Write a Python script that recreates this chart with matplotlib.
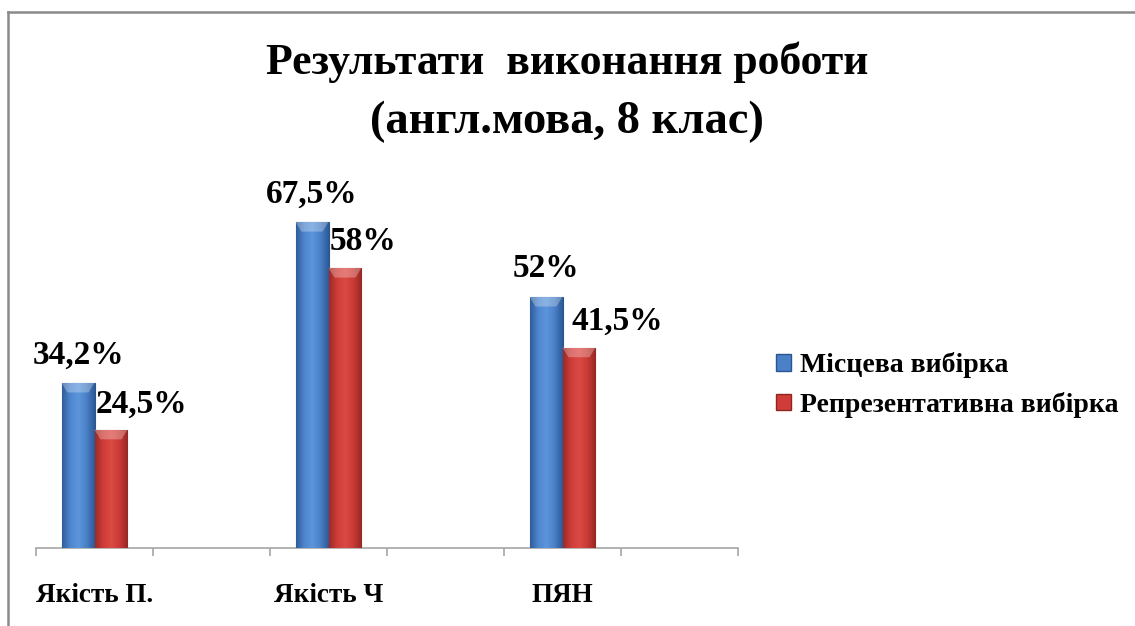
import numpy as np
import matplotlib
matplotlib.use('Agg')
import matplotlib.pyplot as plt
from matplotlib.colors import LinearSegmentedColormap
from matplotlib.lines import Line2D
from matplotlib.patches import Patch

# data
categories = ["Якість П.", "", "Якість Ч", "", "ПЯН", ""]
local_vals = [34.2, None, 67.5, None, 52.0, None]
repr_vals = [24.5, None, 58.0, None, 41.5, None]
local_labels = ["34,2%", "", "67,5%", "", "52%", ""]
repr_labels = ["24,5%", "", "58%", "", "41,5%", ""]
series_names = ["Місцева вибірка", "Репрезентативна вибірка"]
title_lines = ["Результати  виконання роботи", "(англ.мова, 8 клас)"]

# label shifts (px) as placed in the original
repr_dx = [30, 0, 18, 0, 38, 0]

W, H = 1135, 626
fig = plt.figure(figsize=(W / 100, H / 100), dpi=100)
fig.patch.set_facecolor('white')

FONT = 'Liberation Serif'

# frame (only top and left edges visible)
fig.add_artist(Line2D([8 / W, 1.0], [1 - 12 / H, 1 - 12 / H], color='#8a8a8a', lw=1.8))
fig.add_artist(Line2D([8 / W, 8 / W], [0, 1 - 12 / H], color='#8a8a8a', lw=1.8))

fig.text(567 / W, 1 - 74 / H, title_lines[0], ha='center', va='baseline', fontsize=31.5,
         fontweight='bold', family=FONT)
fig.text(567 / W, 1 - 133 / H, title_lines[1], ha='center', va='baseline', fontsize=33.5,
         fontweight='bold', family=FONT)

ax_left, ax_right = 36, 738
base_y, ymax = 548, 80
px_per_unit = 4.83
top_y = base_y - ymax * px_per_unit
ax = fig.add_axes([ax_left / W, (H - base_y) / H, (ax_right - ax_left) / W,
                   (base_y - top_y) / H])
ax.patch.set_alpha(0)

blue_cm = LinearSegmentedColormap.from_list('b', ['#2f5d9a', '#4f87cf', '#5d95dc', '#4a80c6', '#2d5a96'])
red_cm = LinearSegmentedColormap.from_list('r', ['#9e2a27', '#cf3d39', '#dc4a45', '#c93a36', '#962825'])
grad = np.linspace(0, 1, 64).reshape(1, -1)

bw = 0.282


def draw_bar(x, h, cmap, edge):
    b = ax.bar(x, h, width=bw, color=cmap(0.5), edgecolor=edge, linewidth=0.8, zorder=2)[0]
    im = ax.imshow(grad, cmap=cmap, aspect='auto', extent=(x - bw / 2, x + bw / 2, 0, h),
                   zorder=3, interpolation='bilinear')
    im.set_clip_path(b)
    # bevel on top
    bev = 2.0
    inset = bw * 0.18
    top = plt.Polygon([[x - bw / 2, h], [x + bw / 2, h], [x + bw / 2 - inset, h - bev],
                       [x - bw / 2 + inset, h - bev]], closed=True,
                      facecolor='white', alpha=0.28, edgecolor='none', zorder=4)
    ax.add_patch(top)


lab_kw = dict(textcoords='offset points', ha='center', va='baseline',
              fontsize=24, fontweight='bold', family=FONT)
for i in range(len(categories)):
    if local_vals[i] is not None:
        draw_bar(i - bw / 2, local_vals[i], blue_cm, '#2a5690')
        ax.annotate(local_labels[i], (i - bw / 2, local_vals[i]), xytext=(0, 14), **lab_kw)
    if repr_vals[i] is not None:
        draw_bar(i + bw / 2, repr_vals[i], red_cm, '#8e2523')
        ax.annotate(repr_labels[i], (i + bw / 2, repr_vals[i]),
                    xytext=(repr_dx[i] * 0.72, 12.5), **lab_kw)

ax.set_xlim(-0.5, len(categories) - 0.5)
ax.set_ylim(0, ymax)

for s in ['top', 'right', 'left']:
    ax.spines[s].set_visible(False)
ax.spines['bottom'].set_color('#a6a6a6')
ax.spines['bottom'].set_linewidth(1.2)
ax.set_yticks([])

ax.set_xticks(np.arange(-0.5, len(categories), 1.0))
ax.set_xticklabels([])
ax.tick_params(axis='x', which='major', length=6, color='#a6a6a6', width=1.2)
ax.set_xticks(np.arange(len(categories)), minor=True)
ax.set_xticklabels(categories, minor=True, fontsize=19.5, fontweight='bold', family=FONT)
ax.tick_params(axis='x', which='minor', length=0, pad=25)

handles = [Patch(facecolor='#4a80c6', edgecolor='#2a5690'),
           Patch(facecolor='#cf3d39', edgecolor='#8e2523')]
fig.legend(handles, series_names, loc='center left', bbox_to_anchor=(751 / W, 1 - 385 / H),
           frameon=False, prop={'family': FONT, 'weight': 'bold', 'size': 20},
           handlelength=0.55, handleheight=0.55, handletextpad=0.3, labelspacing=0.5)

fig.savefig('out.png', dpi=100, facecolor='white')
